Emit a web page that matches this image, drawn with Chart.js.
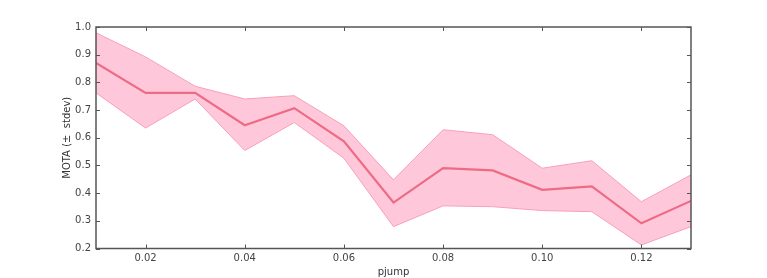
<!DOCTYPE html>
<html>
<head>
<meta charset="utf-8">
<script src="https://cdn.jsdelivr.net/npm/chart.js@4/dist/chart.umd.min.js"></script>
<style>
  html, body { margin: 0; padding: 0; background: #fff; }
  #wrap { width: 767px; height: 278px; position: relative; }
</style>
</head>
<body>
<div id="wrap"><canvas id="c"></canvas></div>
<script>
// pjump values and MOTA (mean, +/- stdev)
const pjump = [0.01, 0.02, 0.03, 0.04, 0.05, 0.06, 0.07, 0.08, 0.09, 0.10, 0.11, 0.12, 0.13];
const motaMean  = [0.870, 0.762, 0.762, 0.645, 0.707, 0.587, 0.366, 0.490, 0.482, 0.412, 0.424, 0.291, 0.372];
const motaUpper = [0.979, 0.892, 0.786, 0.740, 0.752, 0.643, 0.448, 0.629, 0.611, 0.490, 0.517, 0.369, 0.466];
const motaLower = [0.762, 0.635, 0.740, 0.554, 0.655, 0.526, 0.279, 0.354, 0.351, 0.337, 0.333, 0.213, 0.279];
const xTicks = [0.02, 0.04, 0.06, 0.08, 0.10, 0.12];
const yTicks = [0.2, 0.3, 0.4, 0.5, 0.6, 0.7, 0.8, 0.9, 1.0];

const FONT = 'DejaVu Sans, sans-serif';
const AXIS_COLOR = '#555';

const pts = arr => pjump.map((x, i) => ({ x, y: arr[i] }));

// matplotlib-style frame with inward ticks on all four sides
const framePlugin = {
  id: 'frame',
  afterDatasetsDraw(chart) {
    const { ctx, chartArea: a, scales } = chart;
    const len = 4;
    ctx.save();
    ctx.strokeStyle = AXIS_COLOR;
    ctx.lineWidth = 1;
    ctx.beginPath();
    for (const v of xTicks) {
      const px = Math.round(scales.x.getPixelForValue(v)) + 0.5;
      ctx.moveTo(px, a.bottom); ctx.lineTo(px, a.bottom - len);
      ctx.moveTo(px, a.top); ctx.lineTo(px, a.top + len);
    }
    for (const v of yTicks) {
      const py = Math.round(scales.y.getPixelForValue(v)) + 0.5;
      ctx.moveTo(a.left, py); ctx.lineTo(a.left + len, py);
      ctx.moveTo(a.right, py); ctx.lineTo(a.right - len, py);
    }
    ctx.stroke();
    ctx.lineWidth = 1.5;
    ctx.strokeRect(a.left, a.top, a.right - a.left, a.bottom - a.top);
    ctx.restore();
  }
};

new Chart(document.getElementById('c'), {
  type: 'line',
  data: {
    datasets: [
      {
        data: pts(motaUpper),
        borderColor: '#f7a0b8',
        backgroundColor: 'rgba(255, 190, 212, 0.85)',
        borderWidth: 1,
        pointRadius: 0,
        fill: '+1',
        order: 2,
      },
      {
        data: pts(motaLower),
        borderColor: '#f7a0b8',
        borderWidth: 1,
        pointRadius: 0,
        fill: false,
        order: 1,
      },
      {
        data: pts(motaMean),
        borderColor: '#ee6b86',
        borderWidth: 2.2,
        pointRadius: 0,
        fill: false,
        order: 0,
      },
    ]
  },
  plugins: [framePlugin],
  options: {
    responsive: true,
    maintainAspectRatio: false,
    animation: false,
    layout: { padding: { top: 27, right: 76, left: 61, bottom: 0 } },
    scales: {
      x: {
        type: 'linear',
        min: 0.01,
        max: 0.13,
        afterBuildTicks: s => { s.ticks = xTicks.map(v => ({ value: v })); },
        afterFit: s => { s.height = 29.5; },
        ticks: {
          color: '#444',
          font: { family: FONT, size: 10 },
          padding: 4,
          maxRotation: 0,
          callback: v => v.toFixed(2),
        },
        grid: { display: false, drawTicks: false },
        border: { display: false },
        title: { display: true, text: 'pjump', color: '#333', font: { family: FONT, size: 10 }, padding: { top: 0, bottom: 0 } },
      },
      y: {
        min: 0.2,
        max: 1.0,
        afterBuildTicks: s => { s.ticks = yTicks.map(v => ({ value: v })); },
        afterFit: s => { s.width = 35; },
        ticks: {
          color: '#444',
          font: { family: FONT, size: 10 },
          padding: 5,
          callback: v => v.toFixed(1),
        },
        grid: { display: false, drawTicks: false },
        border: { display: false },
        title: { display: true, text: 'MOTA (±  stdev)', color: '#333', font: { family: FONT, size: 10 }, padding: { top: 0, bottom: 0 } },
      },
    },
    plugins: {
      legend: { display: false },
      tooltip: { enabled: false },
    },
  },
});
</script>
</body>
</html>
